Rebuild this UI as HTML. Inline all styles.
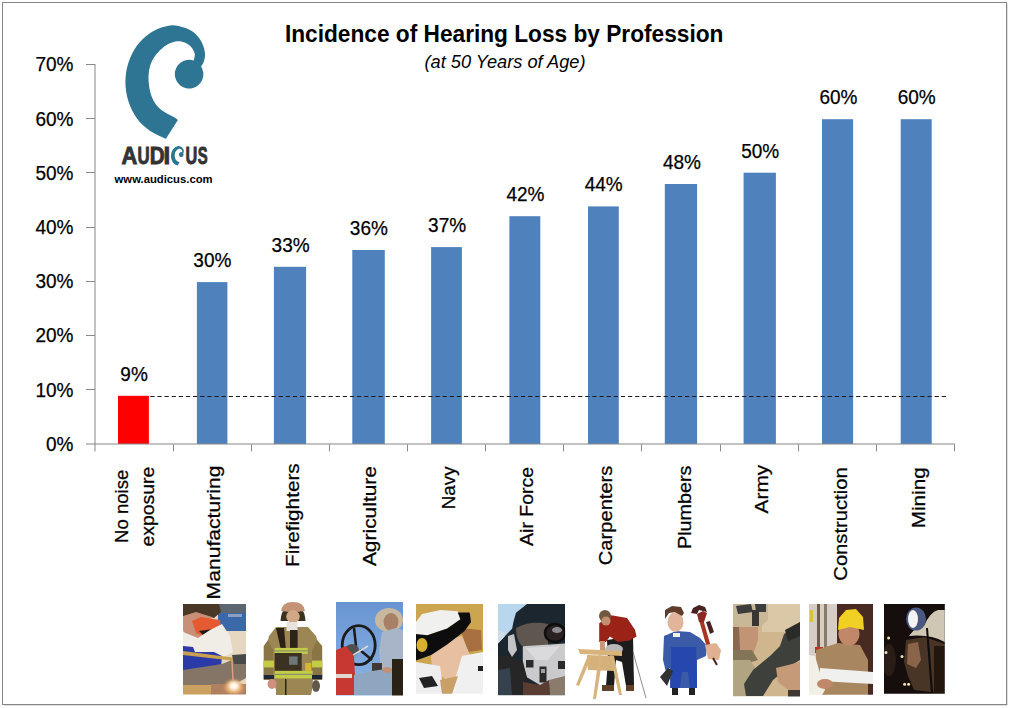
<!DOCTYPE html><html><head><meta charset="utf-8"><style>html,body{margin:0;padding:0;background:#fff;width:1010px;height:708px;overflow:hidden}svg{display:block}text{font-family:"Liberation Sans",sans-serif}</style></head><body><svg width="1010" height="708" viewBox="0 0 1010 708"><rect x="0" y="0" width="1010" height="708" fill="#fff"/><path d="M1007.5,4 V705.5 H4" fill="none" stroke="#e0e0e0" stroke-width="1"/><rect x="2.5" y="2.5" width="1004" height="702" fill="none" stroke="#868686" stroke-width="1"/><text x="504.2" y="41.6" text-anchor="middle" font-weight="bold" font-size="23" textLength="438.5" lengthAdjust="spacingAndGlyphs">Incidence of Hearing Loss by Profession</text><text x="505" y="67.6" text-anchor="middle" font-style="italic" font-size="18.5" textLength="161" lengthAdjust="spacingAndGlyphs">(at 50 Years of Age)</text><path d="M165.9,138.8 C164.59,138.20 160.65,136.48 158.04,135.19 C155.42,133.89 152.69,132.66 150.20,131.02 C147.71,129.38 145.32,127.46 143.12,125.36 C140.92,123.25 138.85,120.89 137.00,118.38 C135.16,115.87 133.48,113.14 132.05,110.30 C130.61,107.46 129.37,104.44 128.39,101.36 C127.41,98.28 126.65,95.05 126.15,91.83 C125.65,88.60 125.40,85.28 125.40,82.00 C125.40,78.72 125.65,75.40 126.15,72.17 C126.65,68.95 127.41,65.72 128.39,62.64 C129.37,59.56 130.61,56.54 132.05,53.70 C133.48,50.86 135.16,48.13 137.00,45.62 C138.85,43.11 140.92,40.75 143.12,38.64 C145.32,36.54 147.71,34.62 150.20,32.98 C152.69,31.34 155.34,29.93 158.04,28.81 C160.73,27.69 163.56,26.83 166.39,26.26 C169.21,25.69 172.06,25.18 175.00,25.40 C177.94,25.62 181.08,26.58 184.00,27.60 C186.92,28.62 189.90,29.63 192.50,31.50 C195.10,33.37 197.72,36.13 199.60,38.80 C201.48,41.47 202.90,44.70 203.80,47.50 C204.70,50.30 205.03,53.13 205.00,55.60 C204.97,58.07 204.25,60.50 203.60,62.30 C202.95,64.10 201.52,65.72 201.10,66.40 A14.3,14.3 0 1 1 193.6,60.6 C193.72,60.22 194.12,59.47 194.30,58.30 C194.48,57.13 195.15,55.42 194.70,53.60 C194.25,51.78 193.15,49.20 191.60,47.40 C190.05,45.60 187.73,43.83 185.40,42.80 C183.07,41.77 180.45,41.02 177.60,41.20 C174.75,41.38 171.15,42.47 168.30,43.90 C165.45,45.33 162.97,47.40 160.50,49.80 C158.03,52.20 155.30,55.33 153.50,58.30 C151.70,61.27 150.53,64.23 149.70,67.60 C148.87,70.97 148.50,74.87 148.50,78.50 C148.50,82.13 149.07,86.15 149.70,89.40 C150.33,92.65 151.17,95.35 152.30,98.00 C153.43,100.65 154.68,103.08 156.50,105.30 C158.32,107.52 160.10,109.23 163.20,111.30 C166.30,113.37 173.12,116.63 175.10,117.70 L177.9,120 Z" fill="#2E7593"/><text transform="translate(121.4,164.4) scale(0.91,1)" font-weight="bold" font-size="24" fill="#333" stroke="#333" stroke-width="0.9">A</text><text transform="translate(137.4,164.4) scale(0.7,1)" font-weight="bold" font-size="24" fill="#333" stroke="#333" stroke-width="0.9">U</text><text transform="translate(149.67,164.4) scale(0.86,1)" font-weight="bold" font-size="24" fill="#333" stroke="#333" stroke-width="0.9">D</text><text transform="translate(163.55,164.4) scale(1.0,1)" font-weight="bold" font-size="24" fill="#333" stroke="#333" stroke-width="0.9">I</text><text transform="translate(185.53,164.4) scale(0.68,1)" font-weight="bold" font-size="24" fill="#333" stroke="#333" stroke-width="0.9">U</text><text transform="translate(197.86,164.4) scale(0.62,1)" font-weight="bold" font-size="24" fill="#333" stroke="#333" stroke-width="0.9">S</text><g transform="translate(171,146.1) scale(0.161,0.173) translate(-125.4,-25.4)"><path d="M165.9,138.8 C164.59,138.20 160.65,136.48 158.04,135.19 C155.42,133.89 152.69,132.66 150.20,131.02 C147.71,129.38 145.32,127.46 143.12,125.36 C140.92,123.25 138.85,120.89 137.00,118.38 C135.16,115.87 133.48,113.14 132.05,110.30 C130.61,107.46 129.37,104.44 128.39,101.36 C127.41,98.28 126.65,95.05 126.15,91.83 C125.65,88.60 125.40,85.28 125.40,82.00 C125.40,78.72 125.65,75.40 126.15,72.17 C126.65,68.95 127.41,65.72 128.39,62.64 C129.37,59.56 130.61,56.54 132.05,53.70 C133.48,50.86 135.16,48.13 137.00,45.62 C138.85,43.11 140.92,40.75 143.12,38.64 C145.32,36.54 147.71,34.62 150.20,32.98 C152.69,31.34 155.34,29.93 158.04,28.81 C160.73,27.69 163.56,26.83 166.39,26.26 C169.21,25.69 172.06,25.18 175.00,25.40 C177.94,25.62 181.08,26.58 184.00,27.60 C186.92,28.62 189.90,29.63 192.50,31.50 C195.10,33.37 197.72,36.13 199.60,38.80 C201.48,41.47 202.90,44.70 203.80,47.50 C204.70,50.30 205.03,53.13 205.00,55.60 C204.97,58.07 204.25,60.50 203.60,62.30 C202.95,64.10 201.52,65.72 201.10,66.40 A14.3,14.3 0 1 1 193.6,60.6 C193.72,60.22 194.12,59.47 194.30,58.30 C194.48,57.13 195.15,55.42 194.70,53.60 C194.25,51.78 193.15,49.20 191.60,47.40 C190.05,45.60 187.73,43.83 185.40,42.80 C183.07,41.77 180.45,41.02 177.60,41.20 C174.75,41.38 171.15,42.47 168.30,43.90 C165.45,45.33 162.97,47.40 160.50,49.80 C158.03,52.20 155.30,55.33 153.50,58.30 C151.70,61.27 150.53,64.23 149.70,67.60 C148.87,70.97 148.50,74.87 148.50,78.50 C148.50,82.13 149.07,86.15 149.70,89.40 C150.33,92.65 151.17,95.35 152.30,98.00 C153.43,100.65 154.68,103.08 156.50,105.30 C158.32,107.52 160.10,109.23 163.20,111.30 C166.30,113.37 173.12,116.63 175.10,117.70 L177.9,120 Z" fill="#2E7593"/></g><text x="114.6" y="183.1" font-weight="bold" font-size="11" fill="#000" textLength="98" lengthAdjust="spacingAndGlyphs">www.audicus.com</text><rect x="118.00" y="395.80" width="30.9" height="48.20" fill="#FF0000"/><rect x="196.90" y="282.10" width="30.5" height="161.90" fill="#4F81BD"/><rect x="273.90" y="266.80" width="32.2" height="177.20" fill="#4F81BD"/><rect x="352.30" y="250.00" width="32.5" height="194.00" fill="#4F81BD"/><rect x="431.10" y="247.10" width="30.8" height="196.90" fill="#4F81BD"/><rect x="509.40" y="216.20" width="30.9" height="227.80" fill="#4F81BD"/><rect x="588.00" y="206.40" width="30.8" height="237.60" fill="#4F81BD"/><rect x="664.80" y="184.00" width="32.3" height="260.00" fill="#4F81BD"/><rect x="743.60" y="172.70" width="32.3" height="271.30" fill="#4F81BD"/><rect x="822.00" y="119.20" width="31.1" height="324.80" fill="#4F81BD"/><rect x="900.70" y="119.20" width="31.0" height="324.80" fill="#4F81BD"/><line x1="150.3" y1="396.5" x2="946" y2="396.5" stroke="#1a1a1a" stroke-width="1" stroke-dasharray="4.2 2.93"/><g stroke="#868686" stroke-width="1" fill="none" shape-rendering="auto"><line x1="95" y1="64" x2="95" y2="451.5"/><line x1="86" y1="444" x2="955" y2="444"/></g><g stroke="#8a8a8a" stroke-width="1" fill="none"><line x1="86" y1="389.5" x2="95" y2="389.5"/><line x1="86" y1="335.5" x2="95" y2="335.5"/><line x1="86" y1="281.5" x2="95" y2="281.5"/><line x1="86" y1="227.5" x2="95" y2="227.5"/><line x1="86" y1="172.5" x2="95" y2="172.5"/><line x1="86" y1="118.5" x2="95" y2="118.5"/><line x1="86" y1="64.5" x2="95" y2="64.5"/><line x1="173.5" y1="444.5" x2="173.5" y2="451.5"/><line x1="251.5" y1="444.5" x2="251.5" y2="451.5"/><line x1="329.5" y1="444.5" x2="329.5" y2="451.5"/><line x1="407.5" y1="444.5" x2="407.5" y2="451.5"/><line x1="485.5" y1="444.5" x2="485.5" y2="451.5"/><line x1="563.5" y1="444.5" x2="563.5" y2="451.5"/><line x1="641.5" y1="444.5" x2="641.5" y2="451.5"/><line x1="720.5" y1="444.5" x2="720.5" y2="451.5"/><line x1="798.5" y1="444.5" x2="798.5" y2="451.5"/><line x1="876.5" y1="444.5" x2="876.5" y2="451.5"/><line x1="954.5" y1="444.5" x2="954.5" y2="451.5"/></g><text x="73.5" y="450.80" text-anchor="end" font-size="20.5" textLength="27.46" lengthAdjust="spacingAndGlyphs" stroke="#000" stroke-width="0.25">0%</text><text x="73.5" y="396.59" text-anchor="end" font-size="20.5" textLength="38.02" lengthAdjust="spacingAndGlyphs" stroke="#000" stroke-width="0.25">10%</text><text x="73.5" y="342.38" text-anchor="end" font-size="20.5" textLength="38.02" lengthAdjust="spacingAndGlyphs" stroke="#000" stroke-width="0.25">20%</text><text x="73.5" y="288.17" text-anchor="end" font-size="20.5" textLength="38.02" lengthAdjust="spacingAndGlyphs" stroke="#000" stroke-width="0.25">30%</text><text x="73.5" y="233.96" text-anchor="end" font-size="20.5" textLength="38.02" lengthAdjust="spacingAndGlyphs" stroke="#000" stroke-width="0.25">40%</text><text x="73.5" y="179.75" text-anchor="end" font-size="20.5" textLength="38.02" lengthAdjust="spacingAndGlyphs" stroke="#000" stroke-width="0.25">50%</text><text x="73.5" y="125.54" text-anchor="end" font-size="20.5" textLength="38.02" lengthAdjust="spacingAndGlyphs" stroke="#000" stroke-width="0.25">60%</text><text x="73.5" y="71.33" text-anchor="end" font-size="20.5" textLength="38.02" lengthAdjust="spacingAndGlyphs" stroke="#000" stroke-width="0.25">70%</text><text x="134.07" y="380.80" text-anchor="middle" font-size="20.5" textLength="27.46" lengthAdjust="spacingAndGlyphs" stroke="#000" stroke-width="0.25">9%</text><text x="212.33" y="267.10" text-anchor="middle" font-size="20.5" textLength="38.02" lengthAdjust="spacingAndGlyphs" stroke="#000" stroke-width="0.25">30%</text><text x="290.60" y="251.80" text-anchor="middle" font-size="20.5" textLength="38.02" lengthAdjust="spacingAndGlyphs" stroke="#000" stroke-width="0.25">33%</text><text x="368.87" y="235.00" text-anchor="middle" font-size="20.5" textLength="38.02" lengthAdjust="spacingAndGlyphs" stroke="#000" stroke-width="0.25">36%</text><text x="447.13" y="232.10" text-anchor="middle" font-size="20.5" textLength="38.02" lengthAdjust="spacingAndGlyphs" stroke="#000" stroke-width="0.25">37%</text><text x="525.40" y="201.20" text-anchor="middle" font-size="20.5" textLength="38.02" lengthAdjust="spacingAndGlyphs" stroke="#000" stroke-width="0.25">42%</text><text x="603.66" y="191.40" text-anchor="middle" font-size="20.5" textLength="38.02" lengthAdjust="spacingAndGlyphs" stroke="#000" stroke-width="0.25">44%</text><text x="681.93" y="169.00" text-anchor="middle" font-size="20.5" textLength="38.02" lengthAdjust="spacingAndGlyphs" stroke="#000" stroke-width="0.25">48%</text><text x="760.20" y="157.70" text-anchor="middle" font-size="20.5" textLength="38.02" lengthAdjust="spacingAndGlyphs" stroke="#000" stroke-width="0.25">50%</text><text x="838.46" y="104.20" text-anchor="middle" font-size="20.5" textLength="38.02" lengthAdjust="spacingAndGlyphs" stroke="#000" stroke-width="0.25">60%</text><text x="916.73" y="104.20" text-anchor="middle" font-size="20.5" textLength="38.02" lengthAdjust="spacingAndGlyphs" stroke="#000" stroke-width="0.25">60%</text><text transform="translate(127.90,542.90) rotate(-90)" font-size="19" stroke="#000" stroke-width="0.25" textLength="73.1" lengthAdjust="spacingAndGlyphs">No noise</text><text transform="translate(154.20,546.50) rotate(-90)" font-size="19" stroke="#000" stroke-width="0.25" textLength="79.9" lengthAdjust="spacingAndGlyphs">exposure</text><text transform="translate(219.50,599.40) rotate(-90)" font-size="19" stroke="#000" stroke-width="0.25" textLength="133.8" lengthAdjust="spacingAndGlyphs">Manufacturing</text><text transform="translate(298.50,567.00) rotate(-90)" font-size="19" stroke="#000" stroke-width="0.25" textLength="103.7" lengthAdjust="spacingAndGlyphs">Firefighters</text><text transform="translate(376.10,566.10) rotate(-90)" font-size="19" stroke="#000" stroke-width="0.25" textLength="100.1" lengthAdjust="spacingAndGlyphs">Agriculture</text><text transform="translate(454.80,509.20) rotate(-90)" font-size="19" stroke="#000" stroke-width="0.25" textLength="42.8" lengthAdjust="spacingAndGlyphs">Navy</text><text transform="translate(533.00,545.90) rotate(-90)" font-size="19" stroke="#000" stroke-width="0.25" textLength="79.0" lengthAdjust="spacingAndGlyphs">Air Force</text><text transform="translate(611.60,565.20) rotate(-90)" font-size="19" stroke="#000" stroke-width="0.25" textLength="99.6" lengthAdjust="spacingAndGlyphs">Carpenters</text><text transform="translate(690.60,549.00) rotate(-90)" font-size="19" stroke="#000" stroke-width="0.25" textLength="83.4" lengthAdjust="spacingAndGlyphs">Plumbers</text><text transform="translate(768.10,513.40) rotate(-90)" font-size="19" stroke="#000" stroke-width="0.25" textLength="48.5" lengthAdjust="spacingAndGlyphs">Army</text><text transform="translate(846.90,580.70) rotate(-90)" font-size="19" stroke="#000" stroke-width="0.25" textLength="113.4" lengthAdjust="spacingAndGlyphs">Construction</text><text transform="translate(924.60,528.30) rotate(-90)" font-size="19" stroke="#000" stroke-width="0.25" textLength="61.0" lengthAdjust="spacingAndGlyphs">Mining</text><defs><filter id="bl" x="-5%" y="-5%" width="110%" height="110%"><feGaussianBlur stdDeviation="0.7"/></filter><filter id="bl2" x="-20%" y="-20%" width="140%" height="140%"><feGaussianBlur stdDeviation="1.6"/></filter><clipPath id="c1"><rect x="183" y="604" width="63" height="90.5"/></clipPath><clipPath id="c3"><rect x="336" y="602" width="67" height="93.4"/></clipPath><clipPath id="c4"><rect x="416" y="604" width="67" height="89.8"/></clipPath><clipPath id="c5"><rect x="498" y="604" width="67.1" height="91.4"/></clipPath><clipPath id="c8"><rect x="733" y="604" width="67.2" height="92.6"/></clipPath><clipPath id="c9"><rect x="809" y="604" width="64" height="90.7"/></clipPath><clipPath id="c10"><rect x="884" y="604" width="60.8" height="89.7"/></clipPath></defs><g clip-path="url(#c1)"><g filter="url(#bl)"><rect x="183" y="604" width="63" height="91" fill="#e6d8c0"/><rect x="218" y="604" width="28" height="27" fill="#3a68a8"/><rect x="218" y="604" width="28" height="9" fill="#5c6670"/><rect x="228" y="614" width="14" height="3" fill="#8aa0c0"/><polygon points="183,604 219,604 221,612 214,618 196,614 186,622 183,622" fill="#4a3828"/><polygon points="183,616 196,612 212,617 205,636 196,640 186,636 183,630" fill="#c89078"/><polygon points="192,621 201,617 220,620 221,632 206,637 196,633" fill="#e65a30"/><polygon points="199,631 221,628 221,633 206,638" fill="#1a1a1a"/><polygon points="183,632 198,638 210,630 222,624 230,636 233,652 222,658 183,658" fill="#f0ece6"/><polygon points="183,646 193,647 195,652 214,652 222,656 221,668 205,672 183,672" fill="#2a3aa8"/><polygon points="183,651 236,658 236,661 183,655" fill="#c8a050"/><polygon points="183,670 222,664 232,660 246,658 246,678 228,688 183,688" fill="#857466"/><polygon points="232,655 246,654 246,664 234,664" fill="#4a4a4a"/><rect x="183" y="685" width="28" height="10" fill="#cca060"/><rect x="211" y="684" width="35" height="11" fill="#b08060"/><ellipse cx="234" cy="687" rx="9" ry="7" fill="#e8b070" filter="url(#bl2)"/><ellipse cx="234" cy="686" rx="5" ry="4.5" fill="#fffaf0" filter="url(#bl2)"/><line x1="232" y1="660" x2="233" y2="680" stroke="#e0a080" stroke-width="1.5"/></g></g><g filter="url(#bl)"><polygon points="276,627 308,627 316,636 320,650 322.2,662 322.2,680 313,680 312,690 311,695 276,695 276,690 273,680 263.7,680 263.7,662 266,648 269,636" fill="#9c8652"/><polygon points="263.7,646 268,640 273,650 273,676 263.7,676" fill="#8a7444"/><polygon points="322.2,646 317,640 312,650 312,676 322.2,676" fill="#8a7444"/><path d="M280.5,621 Q281,611 286,608 L300,608 Q305,611 305.5,621 Z" fill="#3a3020"/><path d="M281,611 Q282,602 293,602 Q304,602 305,611 Q293,613 281,611 Z" fill="#c49274"/><ellipse cx="293" cy="616.5" rx="6.8" ry="6.5" fill="#d0a888"/><rect x="286.5" y="622" width="11" height="9" fill="#e6e2de"/><polygon points="276,628 284,628 286,650 281,650" fill="#2a2018"/><polygon points="290,630 297.6,630 297.6,650 290,650" fill="#2e241a"/><rect x="274.7" y="647.9" width="33" height="6" fill="#c2cc46"/><rect x="274.7" y="650.3" width="33" height="1.2" fill="#8a9070"/><rect x="274.7" y="653" width="27" height="19.5" fill="#3a3024"/><rect x="289" y="656.4" width="8.6" height="8.4" fill="#6e7676"/><rect x="305.2" y="663" width="6" height="7.8" fill="#d8b830"/><rect x="263.7" y="660.6" width="10.2" height="6.8" fill="#c2cc46"/><rect x="312" y="660.6" width="10.2" height="6.8" fill="#c2cc46"/><rect x="274.7" y="670.8" width="38" height="7.6" fill="#c2cc46"/><rect x="274.7" y="673.8" width="38" height="1.2" fill="#8a9070"/><rect x="263.7" y="675" width="10.2" height="4.2" fill="#1e2636"/><rect x="312" y="675" width="10.2" height="4.2" fill="#1e2636"/><ellipse cx="272" cy="684" rx="4.5" ry="5" fill="#d09080"/><ellipse cx="316" cy="686" rx="4" ry="6" fill="#605848"/><rect x="285" y="679" width="1.5" height="16" fill="#2a2418"/></g><g clip-path="url(#c3)"><g filter="url(#bl)"><linearGradient id="sky3" x1="0" y1="0" x2="0" y2="1"><stop offset="0" stop-color="#6894d2"/><stop offset="1" stop-color="#8cb6e6"/></linearGradient><rect x="336" y="602" width="67" height="94" fill="url(#sky3)"/><ellipse cx="389" cy="620" rx="14" ry="12" fill="#c8b8a0"/><ellipse cx="391" cy="622" rx="7.5" ry="9" fill="#a88068"/><polygon points="382,632 396,628 403,630 403,670 381,670 379,650" fill="#a8b4c8"/><ellipse cx="358.7" cy="645.2" rx="16.5" ry="19.5" fill="none" stroke="#1c1c1c" stroke-width="2.8"/><line x1="354" y1="628" x2="356" y2="646" stroke="#1c1c1c" stroke-width="2.5"/><line x1="360" y1="650" x2="372" y2="660" stroke="#1c1c1c" stroke-width="2.5"/><ellipse cx="352" cy="650" rx="7" ry="6" fill="#505050"/><line x1="350" y1="657" x2="368" y2="646" stroke="#d8d8d8" stroke-width="1.5"/><polygon points="336,650 346,646 354,656 356,695 336,695" fill="#c83830"/><rect x="336" y="674" width="16" height="4" fill="#e0d8d0"/><rect x="372" y="663" width="10" height="10" fill="#403830"/><polygon points="354,675 372,671 392,668 394,695 354,695" fill="#8fa6c0"/><rect x="392" y="659" width="11" height="37" fill="#2c2018"/><ellipse cx="387" cy="670" rx="5" ry="3" fill="#c09078"/></g></g><g clip-path="url(#c4)"><g filter="url(#bl)"><rect x="416" y="604" width="67" height="90" fill="#cca650"/><polygon points="460,628 481,630 482,650 468,652" fill="#a87040"/><polygon points="430,645 462,636 470,655 466,676 446,680 432,668" fill="#e6c0a0"/><polygon points="416,662 440,666 444,694 416,694" fill="#eeeeee"/><polygon points="462,656 483,652 483,694 448,694 456,676" fill="#f0f0f0"/><polygon points="440,680 458,676 452,694 442,694" fill="#c8a068"/><polygon points="419,678 432,676 438,686 424,688" fill="#202020"/><rect x="478" y="666" width="5" height="5" fill="#202020"/><polygon points="416,622 422,614 440.5,610 457.8,611.3 460.4,619.3 447.2,628.5 427.3,635.2 416,635.2" fill="#f0f0ee"/><polygon points="416,634 427.3,635.2 447.2,628.5 460.4,619.3 457.8,612.6 469.7,612.6 471.1,621.9 464.4,631.2 447.2,644.5 431.3,655.1 416,660.4" fill="#111"/><ellipse cx="422" cy="645" rx="5.5" ry="7" fill="#d8b030"/></g></g><g clip-path="url(#c5)"><g filter="url(#bl)"><rect x="498" y="604" width="67.1" height="91.4" fill="#1e262e"/><polygon points="498,604 527,604 516,612.7 513.4,622.1 512.1,628.8 504.1,636.9 498,643.6" fill="#b8d6ee"/><polygon points="498,630 506,633 504.1,636.9 498,643.6" fill="#cfdde8"/><path d="M516,628 Q530,620 548,624 L548,648 L522,646 Q516,640 516,628 Z" fill="#5e5650"/><ellipse cx="555" cy="633" rx="10" ry="9" fill="#2a2420" stroke="#0c0c0c" stroke-width="2.5"/><ellipse cx="557" cy="630" rx="5" ry="3" fill="#8a8a90"/><polygon points="508,636 514,634 517,650 512,657 508,650" fill="#c4c4c4"/><polygon points="522.8,646.3 565.1,643.6 565.1,677.2 556.4,682.5 540.3,685.2 526.9,677.2 522.8,661.1" fill="#cacacd"/><polygon points="526,648 560,646 548,660 536,660" fill="#dadadc"/><rect x="526" y="660" width="7.5" height="7.5" fill="#2c2c2c"/><rect x="558" y="661" width="7" height="8" fill="#2c2c2c"/><rect x="539.5" y="666.5" width="7" height="16" fill="#2a2a2a"/><rect x="541" y="669" width="4" height="4" fill="#a0a0a0"/><polygon points="498,656 512,657 522,662 527,678 523,695 498,695" fill="#262626"/><polygon points="498,670 510,668 512,695 498,695" fill="#34424e"/><polygon points="523,682 540,685 549,680 550,695 523,695" fill="#5a3c30"/><polygon points="549,680 565,676 565,695 550,695" fill="#8a7c6c"/></g></g><g filter="url(#bl)"><polygon points="607,640 633,636 634,686 626,686 622,662 616,660 614,686 606,686 608,660" fill="#1a1a1a"/><rect x="602" y="685" width="12" height="6" fill="#604028"/><rect x="626" y="685" width="8" height="6" fill="#604028"/><polygon points="599.2,623.3 611.2,615.3 627.1,618 635.1,629.9 636.5,636.6 629.8,640.5 617.8,641.9 609.9,636.6 605.9,641.9 599.2,641.9" fill="#9a2418"/><ellipse cx="605" cy="616" rx="6" ry="6" fill="#705840"/><ellipse cx="606" cy="621" rx="4.5" ry="4.5" fill="#c09070"/><rect x="600" y="641" width="5" height="12" fill="#c89878"/><ellipse cx="614" cy="649" rx="9" ry="5" fill="#b8b8b8"/><polygon points="578,649 622,651 622,656 580,654" fill="#d8b47c"/><polygon points="587,655 614,656 614,671 588,670" fill="#d4b07a"/><polygon points="588,655 592,656 579,686 576,685" fill="#d8b47c"/><polygon points="599,655 603,656 596,699 593,699" fill="#d8b47c"/><polygon points="610,655 614,656 622,695 619,695" fill="#d8b47c"/><line x1="633" y1="652" x2="646" y2="698" stroke="#707070" stroke-width="0.8"/></g><g filter="url(#bl)"><polygon points="664,636 676,631 690,632 700,638 707,646 706,656 697,660 697,688 670,688 670,668 666,672 663,660" fill="#3a5aa8"/><polygon points="671,647 696,647 697,688 690,688 688,672 682,672 680,688 671,688" fill="#2846ae"/><ellipse cx="675.5" cy="622" rx="8" ry="10" fill="#e2b49c"/><polygon points="665,619 665,610 672,606 681,607 684,613 682,616 675,612 669,613" fill="#5e3e2c"/><rect x="673" y="633" width="7" height="4" fill="#f4f4f4"/><polygon points="660,677 668,668 673,671 667,686" fill="#303030"/><rect x="672" y="688" width="6" height="7" fill="#202020"/><rect x="689" y="688" width="6" height="7" fill="#202020"/><polygon points="699,620 703,619 711,647 707,648" fill="#a83424"/><polygon points="691,613 693,608 699,605 705,607 707,612 703,611 699,610 697,614" fill="#4a2020"/><polygon points="697,614 703,611 707,613 704,622 699,622" fill="#8a2a20"/><polygon points="706,622 710,621 714,632 710,634" fill="#4a2420"/><polygon points="705,645 716,643 721,650 719,660 708,659" fill="#e0b090"/><line x1="713" y1="658" x2="717" y2="665" stroke="#502020" stroke-width="2"/></g><g clip-path="url(#c8)"><g filter="url(#bl)"><rect x="733" y="604" width="67.2" height="92.6" fill="#d0b68e"/><rect x="762" y="604" width="38" height="28" fill="#dac8a6"/><polygon points="733,604 768,604 768,620 760,627 733,627" fill="#c8b898"/><polygon points="736,606 751,604 753,612 738,614" fill="#3c3c3c"/><polygon points="755,604 766,604 766,612 756,612" fill="#3c3c3c"/><rect x="752" y="610" width="7" height="16" fill="#383430"/><polygon points="733,627 758,627 758,640 754,652 741,656 733,652" fill="#c29474"/><polygon points="733,627 739,627 740,650 733,652" fill="#8a6850"/><polygon points="733,650 752,650 758,660 745,664 733,662" fill="#847458"/><polygon points="733,660 750,660 758,672 752,696 733,696" fill="#b0a482"/><polygon points="784,634 800,625 800,660 790,666 773,680 763,696 746,696 744,684 753,670 770,656 780,646" fill="#3e3f3a"/><polygon points="785,630 800,622 800,636 788,641" fill="#2a2a28"/><polygon points="776,668 800,662 800,690 788,690 778,682" fill="#c49a78"/><rect x="788" y="690" width="12" height="7" fill="#403830"/></g></g><g clip-path="url(#c9)"><g filter="url(#bl)"><rect x="809" y="604" width="64" height="91" fill="#4a2a22"/><rect x="809" y="604" width="28" height="56" fill="#d6cec6"/><rect x="817" y="604" width="3" height="50" fill="#705a48"/><rect x="824" y="604" width="3" height="50" fill="#8a7a6a"/><rect x="810" y="610" width="3" height="12" fill="#d8c040"/><rect x="815" y="647" width="8" height="6" fill="#c03020"/><polygon points="816,650 838,643 860,645 868,660 868,695 816,695" fill="#a88660"/><ellipse cx="849" cy="634" rx="10.5" ry="11.5" fill="#c08868"/><polygon points="838,630 839,618 846,610 856,609 863,617 864,630 850,627" fill="#f0d020"/><polygon points="820,668 873,672 873,684 820,681" fill="#f0f0ee"/><polygon points="809,655 815,656 825,690 822,695 809,695" fill="#f2efe6"/><ellipse cx="825" cy="684" rx="8" ry="5" fill="#c08868"/></g></g><g clip-path="url(#c10)"><g filter="url(#bl)"><rect x="884" y="604" width="61" height="90" fill="#120e0a"/><ellipse cx="889" cy="660" rx="7" ry="16" fill="#2a1e12"/><polygon points="906,640 925,637 944.7,644 944.7,693.6 914,690 908,676 904,662" fill="#4a3426"/><polygon points="908,644 918,642 921,660 916,668 907,664" fill="#8a6448"/><rect x="934" y="646" width="11" height="48" fill="#24160e"/><path d="M909,636 Q914,628 924,626 Q930,612 938,610 L944.7,610 L944.7,642 Q930,634 909,636 Z" fill="#cfc6b4"/><ellipse cx="916" cy="619" rx="10" ry="11.5" fill="#4a5880"/><ellipse cx="913" cy="619" rx="5" ry="9" fill="#f4f4f4"/><line x1="927" y1="628" x2="932" y2="693" stroke="#080808" stroke-width="2"/><circle cx="888.6" cy="638" r="1.5" fill="#f0e0b0"/><circle cx="886" cy="652.5" r="1.5" fill="#f0e0b0"/><circle cx="902" cy="656.5" r="1.5" fill="#f0e0b0"/><circle cx="904.6" cy="684.3" r="1.5" fill="#f0e0b0"/><circle cx="908.6" cy="684.3" r="1.5" fill="#f0e0b0"/></g></g></svg></body></html>
